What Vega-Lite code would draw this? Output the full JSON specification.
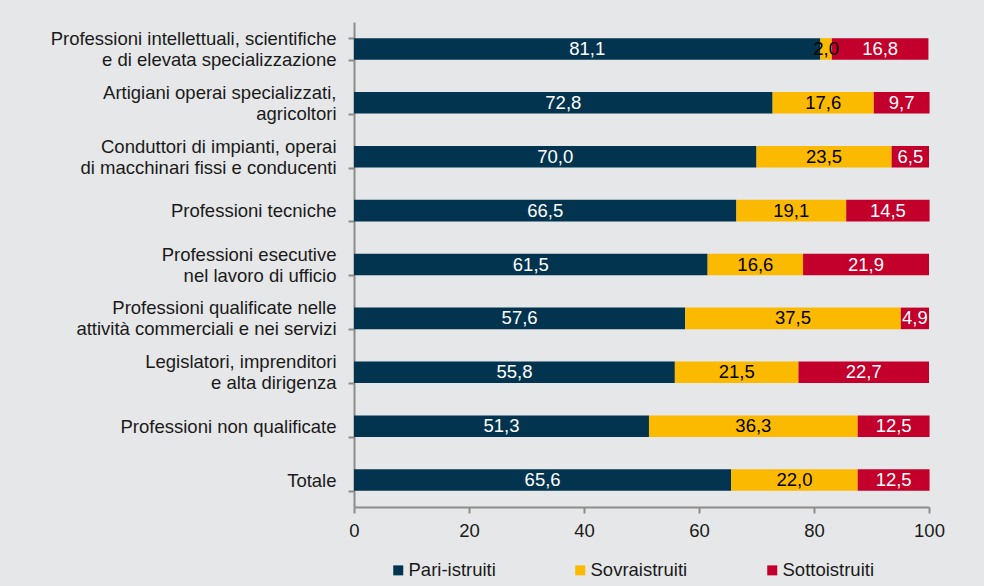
{
  "$schema": "https://vega.github.io/schema/vega-lite/v6.json",
  "width": 575,
  "height": 485,
  "autosize": {"type": "none"},
  "padding": {"left": 354, "top": 22, "right": 55, "bottom": 79},
  "background": "#e6e7e8",
  "config": {
    "view": {"stroke": null},
    "font": "Liberation Sans",
    "locale": {"number": {"decimal": ",", "thousands": ".", "grouping": [3], "currency": ["", " €"]}}
  },
  "data": {
    "values": [
      {"cat": "Professioni intellettuali, scientifiche\ne di elevata specializzazione", "s": "Pari-istruiti", "v": 81.1},
      {"cat": "Professioni intellettuali, scientifiche\ne di elevata specializzazione", "s": "Sovraistruiti", "v": 2.0},
      {"cat": "Professioni intellettuali, scientifiche\ne di elevata specializzazione", "s": "Sottoistruiti", "v": 16.8},
      {"cat": "Artigiani operai specializzati,\nagricoltori", "s": "Pari-istruiti", "v": 72.8},
      {"cat": "Artigiani operai specializzati,\nagricoltori", "s": "Sovraistruiti", "v": 17.6},
      {"cat": "Artigiani operai specializzati,\nagricoltori", "s": "Sottoistruiti", "v": 9.7},
      {"cat": "Conduttori di impianti, operai\ndi macchinari fissi e conducenti", "s": "Pari-istruiti", "v": 70.0},
      {"cat": "Conduttori di impianti, operai\ndi macchinari fissi e conducenti", "s": "Sovraistruiti", "v": 23.5},
      {"cat": "Conduttori di impianti, operai\ndi macchinari fissi e conducenti", "s": "Sottoistruiti", "v": 6.5},
      {"cat": "Professioni tecniche", "s": "Pari-istruiti", "v": 66.5},
      {"cat": "Professioni tecniche", "s": "Sovraistruiti", "v": 19.1},
      {"cat": "Professioni tecniche", "s": "Sottoistruiti", "v": 14.5},
      {"cat": "Professioni esecutive\nnel lavoro di ufficio", "s": "Pari-istruiti", "v": 61.5},
      {"cat": "Professioni esecutive\nnel lavoro di ufficio", "s": "Sovraistruiti", "v": 16.6},
      {"cat": "Professioni esecutive\nnel lavoro di ufficio", "s": "Sottoistruiti", "v": 21.9},
      {"cat": "Professioni qualificate nelle\nattività commerciali e nei servizi", "s": "Pari-istruiti", "v": 57.6},
      {"cat": "Professioni qualificate nelle\nattività commerciali e nei servizi", "s": "Sovraistruiti", "v": 37.5},
      {"cat": "Professioni qualificate nelle\nattività commerciali e nei servizi", "s": "Sottoistruiti", "v": 4.9},
      {"cat": "Legislatori, imprenditori\ne alta dirigenza", "s": "Pari-istruiti", "v": 55.8},
      {"cat": "Legislatori, imprenditori\ne alta dirigenza", "s": "Sovraistruiti", "v": 21.5},
      {"cat": "Legislatori, imprenditori\ne alta dirigenza", "s": "Sottoistruiti", "v": 22.7},
      {"cat": "Professioni non qualificate", "s": "Pari-istruiti", "v": 51.3},
      {"cat": "Professioni non qualificate", "s": "Sovraistruiti", "v": 36.3},
      {"cat": "Professioni non qualificate", "s": "Sottoistruiti", "v": 12.5},
      {"cat": "Totale", "s": "Pari-istruiti", "v": 65.6},
      {"cat": "Totale", "s": "Sovraistruiti", "v": 22.0},
      {"cat": "Totale", "s": "Sottoistruiti", "v": 12.5}
    ]
  },
  "transform": [
    {"calculate": "indexof(['Pari-istruiti','Sovraistruiti','Sottoistruiti'], datum.s)", "as": "ord"},
    {"stack": "v", "groupby": ["cat"], "sort": [{"field": "ord", "order": "ascending"}], "as": ["v0", "v1"]},
    {"calculate": "(datum.v0 + datum.v1) / 2", "as": "mid"}
  ],
  "encoding": {
    "y": {
      "field": "cat",
      "type": "nominal",
      "sort": null,
      "title": null,
      "scale": {"paddingInner": 0.6, "paddingOuter": 0.3},
      "axis": {
        "labelExpr": "split(datum.label, '\\n')",
        "labelFontSize": 18.5,
        "labelLineHeight": 21,
        "labelOffset": {"condition": {"test": "indexof(datum.label, '\\n') >= 0", "value": -10.5}, "value": 0},
        "labelColor": "#1a1a1a",
        "labelPadding": 12,
        "labelLimit": 400,
        "tickSize": 6,
        "tickColor": "#8c8c8c",
        "domainColor": "#8c8c8c",
        "domainWidth": 2,
        "tickWidth": 2,
        "bandPosition": 0,
        "tickBand": "extent"
      }
    }
  },
  "layer": [
    {
      "mark": {"type": "bar"},
      "encoding": {
        "x": {
          "field": "v0",
          "type": "quantitative",
          "scale": {"domain": [0, 100], "nice": false},
          "title": null,
          "axis": {
            "values": [0, 20, 40, 60, 80, 100],
            "grid": false,
            "labelFontSize": 18.5,
            "labelColor": "#1a1a1a",
            "labelPadding": 8,
            "tickSize": 6,
            "tickColor": "#8c8c8c",
            "domainColor": "#8c8c8c",
            "domainWidth": 2,
            "tickWidth": 2,
            "labelFlush": false
          }
        },
        "x2": {"field": "v1"},
        "color": {
          "field": "s",
          "type": "nominal",
          "scale": {"domain": ["Pari-istruiti", "Sovraistruiti", "Sottoistruiti"], "range": ["#02344f", "#fbb900", "#c2002b"]},
          "legend": {
            "title": null,
            "orient": "none",
            "legendX": 35,
            "legendY": 539,
            "direction": "horizontal",
            "symbolType": "square",
            "symbolSize": 100,
            "symbolStrokeWidth": 0,
            "labelFontSize": 18.5,
            "labelColor": "#1a1a1a",
            "labelOffset": 1,
            "columnPadding": 75
          }
        }
      }
    },
    {
      "mark": {"type": "text", "fontSize": 18.5, "baseline": "middle", "align": "center"},
      "encoding": {
        "x": {"field": "mid", "type": "quantitative"},
        "text": {"field": "v", "type": "quantitative", "format": ".1f"},
        "color": {
          "field": "s",
          "type": "nominal",
          "scale": {"domain": ["Pari-istruiti", "Sovraistruiti", "Sottoistruiti"], "range": ["#ffffff", "#000000", "#ffffff"]},
          "legend": null
        }
      }
    }
  ],
  "resolve": {"scale": {"color": "independent"}}
}
